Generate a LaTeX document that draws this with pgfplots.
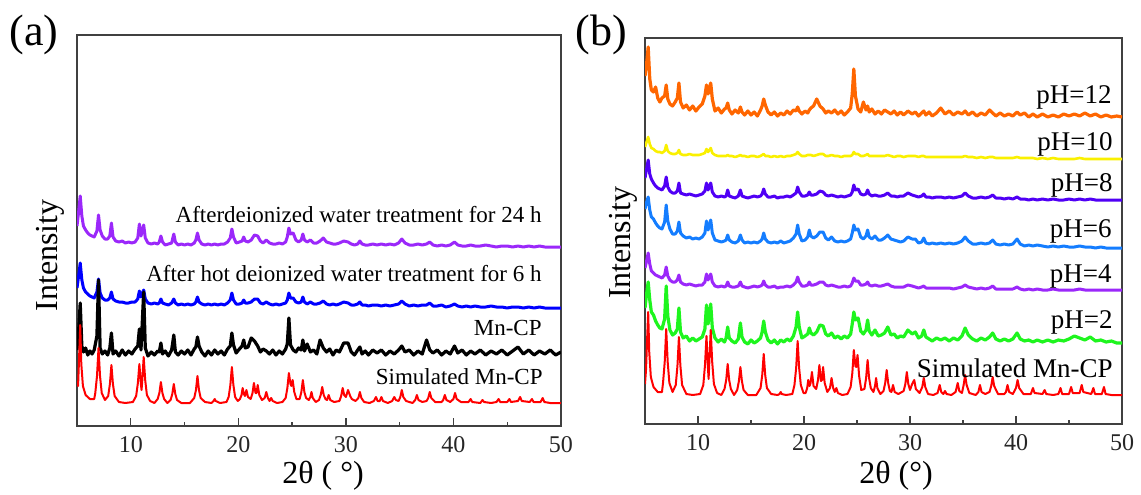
\documentclass[border=0pt]{standalone}
\usepackage{fontspec}
\setmainfont{Liberation Serif}
\usepackage{pgfplots}
\usepackage{pgfplotstable}
\pgfplotsset{compat=1.18}

\definecolor{cpur}{RGB}{155,40,250}
\definecolor{cblu}{RGB}{0,0,255}
\definecolor{cred}{RGB}{255,0,0}
\definecolor{cora}{RGB}{255,102,0}
\definecolor{cyel}{RGB}{250,240,0}
\definecolor{cind}{RGB}{80,0,245}
\definecolor{cazu}{RGB}{20,125,255}
\definecolor{cvio}{RGB}{155,40,250}
\definecolor{cgre}{RGB}{30,245,30}

% experimental patterns (y = height in px above the bottom of the frame)
\pgfplotstableread{
x pu bl bk or ye in az vi gr
5.0 200 138 76 348 277 246 215 156 116
5.15 214 150 95 360 282 255 222 163 130
5.3 230 163 123 377 287 264 227 171 142
5.45 210 146 80 345 280 250 214 160 124
5.6 200 138 74 334 276 245 207 153 112
5.8 196 134 78 332 275 241 205 151 109
6.0 193 132 71 337 273 238 201 149 103
6.2 191 130 75 326 272 236 198 148 99
6.4 190 129 72 322 272 235 196 147 96
6.6 189 128 76 326 271 234 195 146 95
6.85 195 134 90 328 273 238 202 149 105
7.0 211 147 146 339 279 247 219 157 138
7.15 196 133 78 325 273 237 203 148 108
7.35 190 128 72 320 271 233 195 144 94
7.6 187 126 75 318 270 231 190 142 89
7.85 187 126 71 322 270 231 190 142 91
8.05 190 128 78 326 271 233 193 144 95
8.2 203 134 93 341 274 241 202 149 116
8.35 189 127 72 322 270 231 191 142 92
8.6 185 125 75 316 269 230 188 140 86
8.9 184 124 70 319 269 229 186 139 88
9.2 185 124 76 314 270 230 187 140 83
9.5 183 123 71 318 269 229 185 139 86
9.8 184 123 75 313 269 228 186 138 83
10.1 183 124 72 317 269 229 185 139 85
10.4 184 124 77 320 270 230 187 139 87
10.65 188 127 80 328 271 233 191 142 95
10.8 202 135 97 339 275 241 203 150 119
10.95 190 129 76 330 272 234 194 144 100
11.2 201 136 134 341 276 241 204 150 120
11.35 188 127 78 325 271 232 191 142 96
11.6 183 123 70 313 269 228 184 138 86
11.9 182 122 74 316 268 227 183 137 82
12.2 183 123 71 311 268 228 182 138 85
12.5 182 122 75 315 268 227 183 137 82
12.65 184 123 74 316 268 228 184 138 86
12.8 190 127 83 321 269 234 189 142 97
12.95 184 123 72 314 268 228 184 138 86
13.2 181 122 75 310 268 227 182 137 83
13.5 182 121 70 314 267 226 181 137 81
13.8 183 123 76 311 268 228 183 138 85
14.0 192 127 91 317 269 234 189 142 101
14.15 184 123 74 312 268 228 184 138 87
14.4 181 121 71 309 268 227 181 137 82
14.7 182 122 75 313 267 226 182 136 80
15.0 181 121 72 309 268 227 181 137 84
15.3 182 122 76 312 268 228 182 138 81
15.6 181 121 71 308 267 227 181 137 83
15.9 183 122 77 314 268 228 183 138 86
16.05 186 124 79 318 269 230 185 139 92
16.2 193 129 89 325 270 235 191 143 103
16.35 186 124 80 319 268 230 185 139 92
16.6 182 122 74 312 268 227 182 137 84
16.9 181 121 70 309 267 227 181 137 81
17.2 182 122 75 312 268 228 182 138 84
17.5 181 121 71 308 267 226 181 136 80
17.8 182 122 76 311 268 227 183 137 84
18.1 181 121 72 309 267 227 181 137 82
18.4 182 122 75 313 268 228 182 138 85
18.7 182 121 71 310 268 227 183 137 83
19.0 184 123 77 314 269 229 186 139 88
19.25 188 126 80 313 270 231 190 142 97
19.4 197 133 93 317 272 237 199 147 112
19.55 189 126 81 313 270 232 190 142 97
19.8 183 122 73 310 268 228 183 138 86
20.1 184 122 77 313 268 228 184 138 88
20.35 185 123 80 311 269 229 187 139 90
20.5 189 126 86 314 269 232 194 142 96
20.65 185 123 78 316 269 229 188 139 91
20.9 184 123 79 318 268 229 186 139 89
21.2 186 124 88 325 269 230 188 140 92
21.5 191 127 85 318 270 233 192 142 99
21.8 190 127 80 315 270 232 192 142 98
22.05 185 123 74 311 268 229 186 139 90
22.3 183 122 77 313 268 228 184 138 88
22.6 186 124 75 311 269 229 187 139 91
22.9 183 122 72 314 268 228 183 138 86
23.2 182 121 76 310 268 227 182 137 88
23.5 182 122 71 313 267 228 183 137 85
23.8 183 121 75 309 268 227 182 138 88
24.1 182 122 72 312 268 228 183 137 86
24.4 184 123 77 316 268 229 185 138 90
24.55 189 126 82 330 269 232 191 141 100
24.7 198 133 108 355 272 239 199 146 112
24.85 192 128 81 328 270 234 194 143 104
25.1 193 128 76 315 270 235 195 143 106
25.35 186 124 74 312 268 230 187 139 93
25.6 184 123 78 322 268 229 185 139 90
25.85 186 124 76 314 269 230 188 140 94
26.0 192 129 86 318 270 234 194 142 104
26.15 186 124 75 312 268 230 187 139 93
26.4 184 122 82 315 268 228 185 138 89
26.7 186 124 74 310 268 229 188 139 94
27.0 183 122 76 313 268 228 184 138 88
27.3 183 122 72 310 268 228 184 138 89
27.6 185 123 86 314 268 229 186 139 91
27.9 188 125 78 312 269 231 189 140 97
28.2 184 122 74 310 268 228 185 138 89
28.5 183 121 77 313 267 228 184 137 90
28.8 182 122 71 309 268 227 183 137 86
29.1 182 121 76 312 268 228 182 137 88
29.4 183 122 74 309 267 228 183 137 87
29.8 185 124 83 313 268 231 187 139 94
30.2 184 123 83 310 268 229 185 138 90
30.5 182 121 74 312 268 228 185 137 92
30.8 181 121 71 308 267 227 181 136 86
31.1 182 122 76 311 268 228 182 137 88
31.3 185 124 79 313 268 230 186 138 94
31.5 182 121 72 309 267 227 181 136 87
31.8 181 121 75 312 267 227 180 136 85
32.1 181 120 71 308 267 226 181 136 83
32.5 182 121 76 311 267 227 180 136 86
32.9 181 121 73 316 267 227 181 136 84
33.3 182 120 76 310 267 226 180 136 86
33.7 181 121 71 313 267 227 181 136 83
34.1 182 120 75 309 267 226 180 135 86
34.5 181 121 72 312 267 227 181 136 84
34.9 183 122 76 310 267 228 183 137 88
35.2 187 125 80 313 268 231 187 139 96
35.5 183 122 74 309 267 228 183 137 89
35.9 181 120 76 312 267 226 180 136 85
36.3 181 121 71 308 266 226 180 135 83
36.7 182 120 75 311 267 227 181 136 86
37.1 181 121 72 309 266 226 180 135 84
37.5 182 121 86 314 267 227 181 136 87
37.8 184 123 76 311 267 229 184 138 91
38.1 181 120 73 308 266 226 180 135 85
38.5 180 120 76 311 266 226 179 135 83
38.9 181 121 71 308 266 225 180 135 85
39.3 180 119 75 310 266 226 179 135 83
39.7 181 120 72 308 266 225 180 135 85
40.1 184 122 80 312 267 227 185 137 91
40.4 181 120 73 309 266 225 180 135 85
40.8 180 119 76 311 266 225 178 134 83
41.2 180 120 71 307 266 224 179 135 84
41.6 181 119 75 310 266 225 178 134 82
42.0 180 120 72 307 265 224 179 135 84
42.5 180 119 76 310 266 225 178 134 82
43.0 181 119 71 307 265 224 177 134 84
43.5 180 120 75 309 266 225 178 135 82
44.0 179 119 72 307 265 224 177 134 84
44.5 180 119 76 310 265 224 178 134 83
45.0 180 118 71 308 265 225 177 134 85
45.5 179 119 75 310 265 224 177 134 88
46.0 180 119 79 308 266 225 178 135 86
46.5 179 118 72 311 265 224 177 134 84
47.0 180 119 76 308 265 225 177 134 87
47.5 179 118 71 310 265 224 176 134 83
48.0 180 119 75 307 265 224 177 134 84
48.5 179 118 72 309 265 224 176 134 82
49.0 179 118 76 307 265 224 176 134 83
49.5 179 118 71 308 265 224 176 134 81
50.0 179 118 74 307 265 224 176 134 81
}\exptab

% simulated pattern: ya for panel (a), yb for panel (b)
\pgfplotstableread{
x ya yb
5.0 45 40
5.1 40 55
5.2 70 85
5.3 101 112
5.4 62 72
5.55 40 47
5.8 31 37
6.2 27 32
6.6 27 32
6.7 33 41
6.86 50 62
7.0 78 95
7.14 50 62
7.3 33 41
7.6 26 32
7.9 30 39
8.06 42 58
8.2 61 87
8.34 42 58
8.5 30 39
8.9 24 30
9.5 23 29
10.2 24 30
10.5 30 39
10.66 43 59
10.8 62 88
10.94 42 56
11.0 36 45
11.06 44 60
11.2 69 94
11.34 46 62
11.5 31 40
11.8 25 31
12.2 23 29
12.5 27 35
12.66 33 44
12.8 44 60
12.94 33 44
13.1 27 35
13.4 23 29
13.7 26 34
13.86 32 43
14.0 42 57
14.14 32 43
14.3 26 34
14.7 23 29
15.5 23 29
15.9 28 36
16.06 36 49
16.2 50 70
16.34 36 49
16.5 28 36
16.9 24 30
17.5 23 29
17.7 25 30
17.8 27 32
17.9 25 30
18.3 23 29
18.9 24 30
19.1 29 39
19.26 41 56
19.4 59 83
19.54 41 56
19.7 29 39
19.95 25 31
20.15 27 31
20.3 31 36
20.4 38 44
20.52 32 38
20.62 30 41
20.75 36 52
20.9 29 38
21.15 27 35
21.32 33 44
21.45 43 59
21.6 33 43
21.7 33 44
21.8 41 57
21.95 31 41
22.2 26 32
22.45 28 36
22.6 34 46
22.75 28 36
22.9 25 32
23.05 28 36
23.2 25 31
23.6 23 29
24.1 24 30
24.4 28 37
24.56 38 51
24.7 53 74
24.85 42 58
24.93 40 57
25.05 46 69
25.2 34 48
25.4 27 34
25.7 27 35
25.86 34 46
26.0 46 64
26.14 34 46
26.3 28 36
26.55 26 32
26.7 29 38
26.8 34 46
26.92 28 36
27.2 24 30
27.5 26 33
27.66 31 41
27.8 39 54
27.94 31 41
28.1 27 33
28.25 26 32
28.4 31 39
28.55 26 32
28.9 24 30
29.4 25 33
29.56 30 40
29.7 38 52
29.84 31 40
30.0 29 34
30.2 36 40
30.4 30 44
30.55 27 35
30.9 25 31
31.16 28 37
31.3 34 46
31.44 28 37
31.7 24 30
32.2 23 29
32.6 25 31
32.8 29 39
32.95 25 32
33.15 25 30
33.3 29 33
33.45 25 30
33.9 23 29
34.3 25 32
34.5 29 41
34.65 26 33
34.9 25 31
35.06 29 39
35.2 36 49
35.34 29 39
35.6 25 31
36.2 23 29
36.45 26 32
36.6 31 39
36.75 26 32
37.1 24 30
37.5 25 32
37.66 28 38
37.8 34 47
37.94 28 38
38.3 24 30
38.9 24 30
39.05 26 32
39.2 31 39
39.35 26 32
39.7 24 30
40.0 27 36
40.15 33 44
40.3 27 36
40.7 24 30
41.4 24 30
41.6 27 36
41.75 24 31
42.5 23 30
42.7 26 34
42.85 24 30
43.5 23 29
44.0 24 30
44.2 27 36
44.35 24 30
45.0 24 30
45.2 27 37
45.35 24 31
46.0 25 31
46.2 29 39
46.35 25 32
47.1 24 30
47.3 27 36
47.45 24 30
48.1 24 30
48.3 28 37
48.45 24 30
49.0 23 29
50.0 23 29
}\simtab

\pgfplotsset{
  xrd/.style={
    scale only axis,
    xmin=5, xmax=50, ymin=0,
    ymajorticks=false, ytick=\empty,
    xtick={10,20,30,40,50},
    minor xtick={15,25,35,45},
    xtick pos=bottom,
    tick align=inside,
    major tick length=4pt,
    minor tick length=2.2pt,
    axis line style={line width=0.7pt, black!75},
    every tick/.style={black!75, line width=0.7pt},
    ticklabel style={font=\fontsize{12}{12}\selectfont, black!85},
    xticklabel style={yshift=-1.5pt},
    /pgf/number format/assume math mode=true,
    every axis plot/.append style={line join=round},
  }
}

\begin{document}
\begin{tikzpicture}
\useasboundingbox (0pt,0pt) rectangle (570.5pt,247pt);

% ---------------- panel (a)
\begin{axis}[xrd, at={(38.5pt,34pt)}, anchor=south west,
  width=242pt, height=195.5pt, ymax=391]
\addplot[color=cpur, line width=1.5pt] table[x=x, y=pu] {\exptab};
\addplot[color=cblu, line width=1.5pt] table[x=x, y=bl] {\exptab};
\addplot[color=black, line width=1.6pt] table[x=x, y=bk] {\exptab};
\addplot[color=cred, line width=1.0pt] table[x=x, y=ya] {\simtab};
\end{axis}

% ---------------- panel (b)
\begin{axis}[xrd, at={(322.5pt,35pt)}, anchor=south west,
  width=238.5pt, height=193pt, ymax=386]
\addplot[color=cora, line width=1.6pt] table[x=x, y=or] {\exptab};
\addplot[color=cyel, line width=1.3pt] table[x=x, y=ye] {\exptab};
\addplot[color=cind, line width=1.5pt] table[x=x, y=in] {\exptab};
\addplot[color=cazu, line width=1.5pt] table[x=x, y=az] {\exptab};
\addplot[color=cvio, line width=1.5pt] table[x=x, y=vi] {\exptab};
\addplot[color=cgre, line width=1.6pt] table[x=x, y=gr] {\exptab};
\addplot[color=cred, line width=1.0pt] table[x=x, y=yb] {\simtab};
\end{axis}

% panel letters
\node[font=\fontsize{22}{22}\selectfont, inner sep=0pt] at (17pt,229.5pt) {(a)};
\node[font=\fontsize{22}{22}\selectfont, inner sep=0pt] at (300.5pt,229.5pt) {(b)};

% y labels
\node[font=\fontsize{16}{16}\selectfont, rotate=90, inner sep=0pt] at (25pt,119.25pt) {Intensity};
\node[font=\fontsize{16}{16}\selectfont, rotate=90, inner sep=0pt] at (311.75pt,125.5pt) {Intensity};

% x labels
\node[font=\fontsize{16}{16}\selectfont, inner sep=0pt] at (161.5pt,9pt) {2θ ( °)};
\node[font=\fontsize{16}{16}\selectfont, inner sep=0pt] at (448pt,9pt) {2θ (°)};

% annotations (a)
\begin{scope}[every node/.style={font=\fontsize{11.5}{11.5}\selectfont, inner sep=0pt, anchor=east}]
\node at (271pt,139.5pt) {Afterdeionized water treatment for 24 h};
\node at (271pt,110.25pt) {After hot deionized water treatment for 6 h};
\node at (271pt,83.25pt) {Mn-CP};
\node at (271.5pt,58.75pt) {Simulated Mn-CP};
\end{scope}

% annotations (b)
\begin{scope}[every node/.style={font=\fontsize{13.5}{13.5}\selectfont, inner sep=0pt, anchor=east}]
\node at (556pt,198.25pt) {pH=12};
\node at (556.5pt,175pt) {pH=10};
\node at (556.5pt,154.5pt) {pH=8};
\node at (556pt,131.5pt) {pH=6};
\node at (556pt,109pt) {pH=4};
\node at (556.5pt,85.75pt) {pH=2};
\node at (556.5pt,62.75pt) {Simulated Mn-CP};
\end{scope}
\end{tikzpicture}
\end{document}
